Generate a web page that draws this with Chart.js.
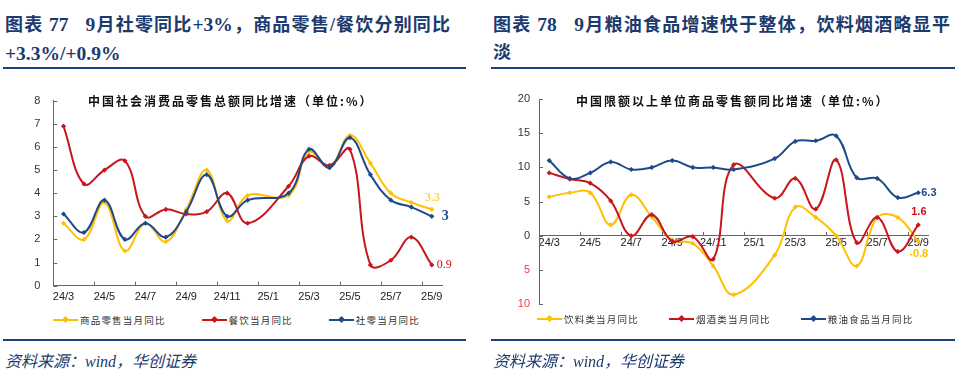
<!DOCTYPE html>
<html lang="zh">
<head>
<meta charset="utf-8">
<script src="https://cdn.jsdelivr.net/npm/chart.js@4.4.1/dist/chart.umd.min.js"></script>
<style>
  body { margin: 0; width: 960px; height: 384px; background: #fff; position: relative; overflow: hidden;
         font-family: "Liberation Serif", "Noto Sans CJK SC", serif; }
  .title { position: absolute; font-size: 18px; font-weight: bold; color: #1b3a6e; line-height: 29px; white-space: nowrap; }
  .title.l1 { top: 10px; text-align: justify; text-align-last: justify; white-space: normal; }
  .title.l2 { top: 39px; }
  .title .num { font-size: 19.5px; }
  .rule { position: absolute; height: 2px; background: #1b4080; }
  .source { position: absolute; top: 348px; font-size: 16px; font-style: italic; color: #1b3a6e; }
  .inner { position: absolute; top: 92px; font: bold 12px "Noto Sans CJK SC", sans-serif; letter-spacing: 2px; color: #111; white-space: nowrap; }
  canvas { position: absolute; }
  ul.legend { position: absolute; margin: 0; padding: 0; list-style: none; display: flex; align-items: center;
              font: 9.5px "Noto Sans CJK SC", sans-serif; letter-spacing: 1.2px; color: #333; }
  ul.legend li { display: flex; align-items: center; white-space: nowrap; }
  .mark { position: relative; display: inline-block; width: 25px; height: 2px; margin-right: 2px; }
  .dot { position: absolute; left: 10px; top: -2px; width: 5px; height: 5px; transform: rotate(45deg); }
</style>
</head>
<body>
<div class="title l1" style="left:5px; width:445px">图表 <span class="num">77</span>&nbsp;&nbsp;&nbsp;<span class="num">9</span>月社零同比<span class="num">+3%</span>，商品零售/餐饮分别同比</div>
<div class="title l2" style="left:5px"><span class="num">+3.3%/+0.9%</span></div>
<div class="title l1" style="left:493px; width:457px">图表 <span class="num">78</span>&nbsp;&nbsp;&nbsp;<span class="num">9</span>月粮油食品增速快于整体，饮料烟酒略显平</div>
<div class="title l2" style="left:493px">淡</div>
<div class="rule" style="left:3px; width:463px; top:67px"></div>
<div class="rule" style="left:491px; width:464px; top:67px"></div>

<canvas id="left" width="480" height="230" style="left:0; top:80px"></canvas>
<canvas id="right" width="480" height="240" style="left:480px; top:80px"></canvas>

<div class="inner" style="left:88px">中国社会消费品零售总额同比增速（单位:%）</div>
<div class="inner" style="left:576px">中国限额以上单位商品零售额同比增速（单位:%）</div>

<ul class="legend" id="legendLeft" style="left:53px; top:313px; gap:36px"></ul>
<ul class="legend" id="legendRight" style="left:537px; top:312px; gap:30px"></ul>

<div class="rule" style="left:3px; width:463px; top:339px"></div>
<div class="rule" style="left:491px; width:464px; top:339px"></div>
<div class="source" style="left:5px">资料来源：wind，华创证券</div>
<div class="source" style="left:493px">资料来源：wind，华创证券</div>

<script>
// 月份（25/1 与 25/2 合并公布，1月留空）
const months = ['24/3', '24/4', '24/5', '24/6', '24/7', '24/8', '24/9', '24/10', '24/11', '24/12',
  '25/1', '25/2', '25/3', '25/4', '25/5', '25/6', '25/7', '25/8', '25/9'];

// 左图：社零 / 商品零售 / 餐饮 当月同比
const goodsRetail = [2.7, 2.0, 3.6, 1.5, 2.7, 1.9, 3.3, 5.0, 2.8, 3.9, null, 3.9, 5.8, 5.1, 6.5, 5.3, 4.0, 3.6, 3.3];
const catering = [6.9, 4.4, 5.0, 5.4, 3.0, 3.3, 3.1, 3.2, 4.0, 2.7, null, 4.3, 5.6, 5.2, 5.9, 0.9, 1.1, 2.1, 0.9];
const totalRetail = [3.1, 2.3, 3.7, 2.0, 2.7, 2.1, 3.2, 4.8, 3.0, 3.7, null, 4.0, 5.9, 5.1, 6.4, 4.8, 3.7, 3.4, 3.0];

// 右图：饮料类 / 烟酒类 / 粮油食品 当月同比
const beverage = [5.7, 6.3, 6.3, 1.6, 6.0, 2.8, -0.6, -1.1, -4.4, -8.6, null, -2.8, 4.2, 2.7, 0.0, -4.4, 2.7, 2.7, -0.8];
const tobaccoWine = [9.2, 8.3, 7.7, 5.1, 0.0, 3.1, -0.8, -0.1, -3.4, 10.4, null, 5.5, 8.4, 3.9, 11.1, -1.0, 2.7, -2.3, 1.6];
const grainOil = [11.0, 8.4, 9.2, 10.8, 9.7, 10.0, 11.0, 10.0, 10.0, 9.7, null, 11.3, 13.8, 13.9, 14.6, 8.5, 8.4, 5.6, 6.3];

const YELLOW = '#FFC000';
const RED = '#C8161D';
const BLUE = '#1F4A8A';
const AXIS = '#666';

Chart.defaults.font.family = '"Liberation Sans", Arial, sans-serif';
Chart.defaults.font.size = 11;
Chart.defaults.color = '#333';

function series(label, data, color, order, endLabel) {
  return {
    label, data, order, endLabel,
    borderColor: color,
    backgroundColor: color,
    borderWidth: 2,
    tension: 0.4,
    spanGaps: true,
    pointStyle: 'rectRot',
    pointRadius: 2.6,
    pointBorderWidth: 0,
  };
}

// 最后一个点旁边的数值
const endLabels = {
  id: 'endLabels',
  afterDatasetsDraw(chart) {
    const { ctx } = chart;
    chart.data.datasets.forEach((ds, i) => {
      const lab = ds.endLabel;
      if (!lab) return;
      const meta = chart.getDatasetMeta(i);
      const pt = meta.data[meta.data.length - 1];
      const v = ds.data[ds.data.length - 1];
      ctx.save();
      ctx.font = lab.font;
      ctx.fillStyle = ds.borderColor;
      ctx.textAlign = 'left';
      ctx.textBaseline = 'middle';
      ctx.fillText(String(v), pt.x + lab.dx, pt.y + lab.dy);
      ctx.restore();
    });
  },
};

// Excel 风格的向内刻度
const innerTicks = {
  id: 'innerTicks',
  afterDraw(chart) {
    const { ctx, scales: { x, y } } = chart;
    const base = y.getPixelForValue(Math.max(y.min, 0));
    const half = (x.getPixelForValue(1) - x.getPixelForValue(0)) / 2;
    ctx.save();
    ctx.strokeStyle = AXIS;
    ctx.lineWidth = 1;
    ctx.beginPath();
    x.ticks.forEach((t, i) => {
      if (i % 2 || i === 0) return;
      const px = Math.round(x.getPixelForValue(i) - half) + 0.5;
      ctx.moveTo(px, base);
      ctx.lineTo(px, base - 4);
    });
    y.ticks.forEach((t, i) => {
      const py = Math.round(y.getPixelForTick(i)) + 0.5;
      ctx.moveTo(y.right, py);
      ctx.lineTo(y.right + 4, py);
    });
    ctx.stroke();
    ctx.restore();
  },
};

function htmlLegend(ul) {
  return {
    id: 'htmlLegend',
    afterUpdate(c) {
      while (ul.firstChild) {
        ul.firstChild.remove();
      }
      const items = c.options.plugins.legend.labels.generateLabels(c)
        .sort((a, b) => a.datasetIndex - b.datasetIndex);
      items.forEach((item) => {
        const li = document.createElement('li');
        const mark = document.createElement('span');
        mark.className = 'mark';
        mark.style.background = item.strokeStyle;
        const dot = document.createElement('span');
        dot.className = 'dot';
        dot.style.background = item.strokeStyle;
        mark.appendChild(dot);
        const label = document.createElement('span');
        label.textContent = item.text;
        li.appendChild(mark);
        li.appendChild(label);
        ul.appendChild(li);
      });
    },
  };
}

function xScale(extra) {
  return Object.assign({
    type: 'category',
    offset: true,
    grid: { display: true, drawOnChartArea: false, drawTicks: false, offset: true },
    border: { color: AXIS, width: 1 },
    ticks: {
      autoSkip: false,
      maxRotation: 0,
      color: '#222',
      callback(v, i) { return i % 2 === 0 ? months[i] : ''; },
    },
  }, extra);
}

new Chart(document.getElementById('left'), {
  type: 'line',
  data: {
    labels: months,
    datasets: [
      series('商品零售当月同比', goodsRetail, YELLOW, 2, { font: '12px "Liberation Serif"', dx: -7, dy: -12 }),
      series('餐饮当月同比', catering, RED, 1, { font: '12px "Liberation Serif"', dx: 5, dy: 0 }),
      series('社零当月同比', totalRetail, BLUE, 0, { font: 'bold 14px "Liberation Serif"', dx: 10, dy: 0 }),
    ],
  },
  options: {
    responsive: false,
    animation: false,
    layout: { padding: { top: 20.7, right: 38, left: 0, bottom: 0 } },
    scales: {
      x: xScale({
        afterFit(s) { s.height = 24.3; },
        ticks: Object.assign({}, xScale().ticks, { padding: 5 }),
      }),
      y: {
        min: 0, max: 8,
        ticks: { stepSize: 1, padding: 13, color: '#333' },
        grid: { display: true, drawOnChartArea: false, drawTicks: false },
        border: { color: AXIS, width: 1 },
        afterFit(s) { s.width = 53.3; },
      },
    },
    plugins: { legend: { display: false }, tooltip: { enabled: false } },
  },
  plugins: [endLabels, innerTicks, htmlLegend(document.getElementById('legendLeft'))],
});

new Chart(document.getElementById('right'), {
  type: 'line',
  data: {
    labels: months,
    datasets: [
      series('饮料类当月同比', beverage, YELLOW, 2, { font: 'bold 11px "Liberation Sans"', dx: -9, dy: 13 }),
      series('烟酒类当月同比', tobaccoWine, RED, 1, { font: 'bold 11px "Liberation Sans"', dx: -7, dy: -13 }),
      series('粮油食品当月同比', grainOil, BLUE, 0, { font: 'bold 11px "Liberation Sans"', dx: 3, dy: 0 }),
    ],
  },
  options: {
    responsive: false,
    animation: false,
    layout: { padding: { top: 19, right: 31.5, left: 0, bottom: 15.7 } },
    scales: {
      x: xScale({
        position: { y: 0 },
        ticks: Object.assign({}, xScale().ticks, { padding: 1 }),
      }),
      y: {
        min: -10, max: 20,
        ticks: {
          stepSize: 5,
          padding: 9,
          color: (ctx) => (ctx.tick.value < 0 ? '#F23A3A' : '#333'),
          callback: (v) => Math.abs(v),
        },
        grid: { display: true, drawOnChartArea: false, drawTicks: false },
        border: { color: AXIS, width: 1 },
        afterFit(s) { s.width = 59; },
      },
    },
    plugins: { legend: { display: false }, tooltip: { enabled: false } },
  },
  plugins: [endLabels, innerTicks, htmlLegend(document.getElementById('legendRight'))],
});
</script>
</body>
</html>
